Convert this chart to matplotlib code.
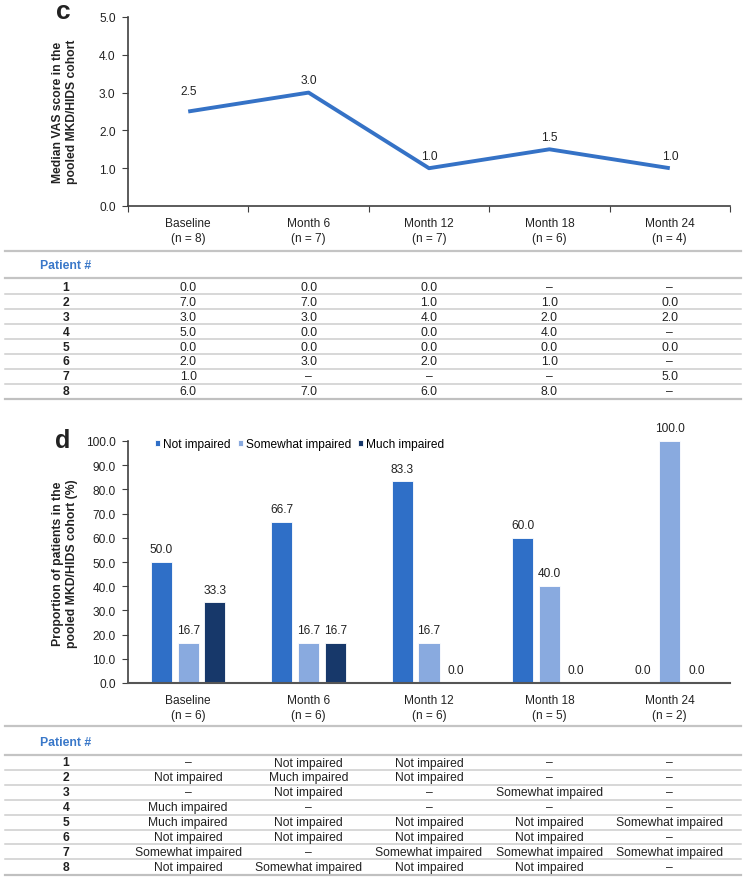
import matplotlib
matplotlib.use("Agg")
import matplotlib.pyplot as plt
from matplotlib import font_manager
from matplotlib.transforms import blended_transform_factory
import numpy as np

# ---------------- data ----------------
timepoints = ["Baseline", "Month 6", "Month 12", "Month 18", "Month 24"]
n_vas = [8, 7, 7, 6, 4]
vas_median = [2.5, 3.0, 1.0, 1.5, 1.0]

patients = ["1", "2", "3", "4", "5", "6", "7", "8"]
vas_table = [
    ["0.0", "0.0", "0.0", "\u2013", "\u2013"],
    ["7.0", "7.0", "1.0", "1.0", "0.0"],
    ["3.0", "3.0", "4.0", "2.0", "2.0"],
    ["5.0", "0.0", "0.0", "4.0", "\u2013"],
    ["0.0", "0.0", "0.0", "0.0", "0.0"],
    ["2.0", "3.0", "2.0", "1.0", "\u2013"],
    ["1.0", "\u2013", "\u2013", "\u2013", "5.0"],
    ["6.0", "7.0", "6.0", "8.0", "\u2013"],
]

n_imp = [6, 6, 6, 5, 2]
series_names = ["Not impaired", "Somewhat impaired", "Much impaired"]
not_impaired = [50.0, 66.7, 83.3, 60.0, 0.0]
somewhat_impaired = [16.7, 16.7, 16.7, 40.0, 100.0]
much_impaired = [33.3, 16.7, 0.0, 0.0, 0.0]

imp_table = [
    ["\u2013", "Not impaired", "Not impaired", "\u2013", "\u2013"],
    ["Not impaired", "Much impaired", "Not impaired", "\u2013", "\u2013"],
    ["\u2013", "Not impaired", "\u2013", "Somewhat impaired", "\u2013"],
    ["Much impaired", "\u2013", "\u2013", "\u2013", "\u2013"],
    ["Much impaired", "Not impaired", "Not impaired", "Not impaired", "Somewhat impaired"],
    ["Not impaired", "Not impaired", "Not impaired", "Not impaired", "\u2013"],
    ["Somewhat impaired", "\u2013", "Somewhat impaired", "Somewhat impaired", "Somewhat impaired"],
    ["Not impaired", "Somewhat impaired", "Not impaired", "Not impaired", "\u2013"],
]

# ---------------- style ----------------
names = {f.name for f in font_manager.fontManager.ttflist}
MAIN = "Liberation Sans" if "Liberation Sans" in names else "DejaVu Sans"
plt.rcParams["font.family"] = [MAIN, "DejaVu Sans"]

LINE_BLUE = "#3572c6"
C_NOT = "#2f6fc7"
C_SOME = "#89aadf"
C_MUCH = "#17386a"
PAT_BLUE = "#3a78c9"
AX_COL = "#404040"
TXT = "#222222"
GRID_GRAY = "#c4c4c4"
FS = 8.6
TFS = 8.7

W, H = 746, 879
fig = plt.figure(figsize=(W / 100, H / 100), dpi=100)


def fx(px):
    return px / W


def fy(py):
    return 1 - py / H


x = np.arange(len(timepoints))
xlabels_c = [f"{t}\n(n = {n})" for t, n in zip(timepoints, n_vas)]
xlabels_d = [f"{t}\n(n = {n})" for t, n in zip(timepoints, n_imp)]

# ---------------- panel c ----------------
axc = fig.add_axes([fx(128), fy(207), fx(730 - 128), (207 - 18) / H])
axc.plot(x, vas_median, color=LINE_BLUE, lw=2.8, solid_capstyle="butt")
label_off = [15, 9, 9, 9, 9]
for xi, v, off in zip(x, vas_median, label_off):
    axc.annotate(f"{v:.1f}", (xi, v), xytext=(0, off), textcoords="offset points",
                 ha="center", va="center", fontsize=FS, color=TXT)
axc.set_xlim(-0.5, len(x) - 0.5)
axc.set_ylim(0, 5)
yc_ticks = np.arange(0, 5.01, 1.0)
axc.set_yticks(yc_ticks)
axc.set_yticklabels([f"{v:.1f}" for v in yc_ticks], fontsize=FS, color=TXT)
axc.set_xticks(np.arange(-0.5, len(x), 1.0))
axc.set_xticklabels([])
axc.set_xticks(x, minor=True)
axc.set_xticklabels(xlabels_c, minor=True, fontsize=FS, color=TXT, linespacing=1.35)
axc.tick_params(axis="x", which="minor", length=0, pad=8)
axc.tick_params(axis="x", which="major", length=4, direction="out", color=AX_COL)
axc.tick_params(axis="y", length=4, direction="out", color=AX_COL, pad=5)
for s in ["top", "right"]:
    axc.spines[s].set_visible(False)
for s in ["left", "bottom"]:
    axc.spines[s].set_color(AX_COL)
    axc.spines[s].set_linewidth(1.2)
fig.text(fx(65), fy(112), "Median VAS score in the\npooled MKD/HIDS cohort", rotation=90,
         fontsize=8.7, fontweight="bold", color=TXT, ha="center", va="center", linespacing=1.3)
fig.text(fx(63), fy(12), "c", fontsize=19, fontweight="bold", ha="center", va="center", color=TXT)

# ---------------- panel d ----------------
axd = fig.add_axes([fx(128), fy(684), fx(730 - 128), (684 - 442) / H])
bw = 0.175
offs = [-0.222, 0.0, 0.222]
series = [not_impaired, somewhat_impaired, much_impaired]
colors = [C_NOT, C_SOME, C_MUCH]
for vals, off, col, nm in zip(series, offs, colors, series_names):
    bars = axd.bar(x + off, vals, width=bw, color=col, edgecolor="white", linewidth=0.6, label=nm)
    for b, v in zip(bars, vals):
        axd.annotate(f"{v:.1f}", (b.get_x() + b.get_width() / 2, v), xytext=(0, 9.2),
                     textcoords="offset points", ha="center", va="center", fontsize=FS, color=TXT)
axd.set_xlim(-0.5, len(x) - 0.5)
axd.set_ylim(0, 100)
yt = np.arange(0, 100.1, 10)
axd.set_yticks(yt)
axd.set_yticklabels([f"{v:.1f}" for v in yt], fontsize=FS, color=TXT)
axd.set_xticks(x)
axd.set_xticklabels(xlabels_d, fontsize=FS, color=TXT, linespacing=1.35)
axd.tick_params(axis="x", length=0, pad=8)
axd.tick_params(axis="y", length=4, direction="out", color=AX_COL, pad=5)
for s in ["top", "right"]:
    axd.spines[s].set_visible(False)
axd.spines["left"].set_color(AX_COL)
axd.spines["left"].set_linewidth(1.2)
axd.spines["bottom"].set_color("#555555")
axd.spines["bottom"].set_linewidth(1.5)
fig.text(fx(65), fy(564), "Proportion of patients in the\npooled MKD/HIDS cohort (%)", rotation=90,
         fontsize=8.8, fontweight="bold", color=TXT, ha="center", va="center", linespacing=1.3)
axd.legend(loc="center left", bbox_to_anchor=(0.045, 1 - 3 / 242), ncol=3, frameon=False,
           fontsize=FS, handlelength=0.45, handleheight=0.45, handletextpad=0.25,
           columnspacing=0.55, borderaxespad=0, borderpad=0)
fig.text(fx(63), fy(441), "d", fontsize=18, fontweight="bold", ha="center", va="center", color=TXT)


# ---------------- tables ----------------
def hline(py, lw, col=GRID_GRAY):
    fig.add_artist(plt.Line2D([fx(5), fx(741)], [fy(py)] * 2, color=col, lw=lw,
                              transform=fig.transFigure))


def draw_table(ref_ax, top_line, header_y, header_line, first_row, rows):
    trans = blended_transform_factory(ref_ax.transData, fig.transFigure)
    row_h = 14.9
    hline(top_line, 1.6)
    fig.text(fx(40), fy(header_y), "Patient #", color=PAT_BLUE, fontsize=8.8, fontweight="bold",
             ha="left", va="center")
    hline(header_line, 1.6)
    for i, (p, row) in enumerate(zip(patients, rows)):
        yc = first_row + i * row_h
        fig.text(fx(66), fy(yc), p, fontsize=TFS, fontweight="bold", ha="center", va="center",
                 color=TXT)
        for j, cell in enumerate(row):
            fig.text(x[j], fy(yc), cell, transform=trans, fontsize=TFS, ha="center", va="center",
                     color=TXT)
        last = i == len(rows) - 1
        hline(yc + row_h / 2 + (0.5 if last else 0), 1.6 if last else 1.1,
              "#c0c0c0" if last else "#cdcdcd")


draw_table(axc, 251.5, 266, 279, 288, vas_table)
draw_table(axd, 727, 743, 756, 763.5, imp_table)

fig.savefig("out.png", dpi=100)
